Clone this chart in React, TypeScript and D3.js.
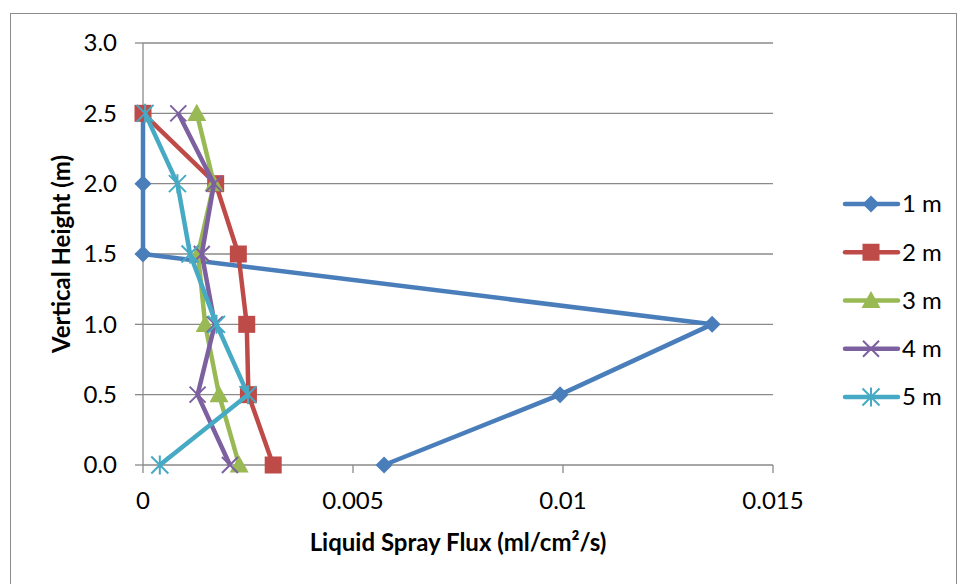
import React from "react";
import * as d3 from "d3";

const heights = [0, 0.5, 1.0, 1.5, 2.0, 2.5];
const seriesNames = ["1 m", "2 m", "3 m", "4 m", "5 m"];
const flux1m = [0.00574, 0.00993, 0.01355, 0, 0, 0];
const flux2m = [0.0031, 0.00251, 0.00247, 0.00227, 0.00173, 0];
const flux3m = [0.00229, 0.00181, 0.00148, 0.00131, 0.00169, 0.00128];
const flux4m = [0.00207, 0.0013, 0.00171, 0.0014, 0.00169, 0.00084];
const flux5m = [0.0004, 0.0025, 0.00175, 0.00112, 0.00082, 0.00005];
const seriesValues = [flux1m, flux2m, flux3m, flux4m, flux5m];
const colors = ["#4A7EBB", "#BE4B48", "#98B954", "#7D60A0", "#46AAC5"];
const markers = ["diamond", "square", "triangle", "x", "star"];
const xTicks = [0, 0.005, 0.01, 0.015];
const xTickLabels = ["0", "0.005", "0.01", "0.015"];
const yTicks = [0, 0.5, 1.0, 1.5, 2.0, 2.5, 3.0];

const W = 957;
const H = 584;
const font = "Lato, 'Open Sans', sans-serif";
const fs = 24;

function Marker({ type, x, y, color }: { type: string; x: number; y: number; color: string }) {
  if (type === "diamond") {
    const s = 8.5;
    return <path d={`M${x},${y - s}L${x + s},${y}L${x},${y + s}L${x - s},${y}Z`} fill={color} />;
  }
  if (type === "square") {
    const s = 8.5;
    return <rect x={x - s} y={y - s} width={2 * s} height={2 * s} fill={color} />;
  }
  if (type === "triangle") {
    const s = 9.5;
    return <path d={`M${x},${y - s}L${x + s},${y + s * 0.8}L${x - s},${y + s * 0.8}Z`} fill={color} />;
  }
  if (type === "x") {
    const s = 8;
    return (
      <path d={`M${x - s},${y - s}L${x + s},${y + s}M${x - s},${y + s}L${x + s},${y - s}`} stroke={color} strokeWidth={2} fill="none" />
    );
  }
  const s = 8.5;
  return (
    <path
      d={`M${x - s},${y - s}L${x + s},${y + s}M${x - s},${y + s}L${x + s},${y - s}M${x},${y - s - 1}L${x},${y + s + 1}`}
      stroke={color}
      strokeWidth={2}
      fill="none"
    />
  );
}

export default function App() {
  const x = d3.scaleLinear().domain([0, 0.015]).range([143, 773]);
  const y = d3.scaleLinear().domain([0, 3]).range([465, 43]);
  const line = d3
    .line<[number, number]>()
    .x((d) => x(d[0]))
    .y((d) => y(d[1]));

  const legendY = d3.scaleLinear().domain([0, 4]).range([204, 397]);

  return (
    <svg width={W} height={H} style={{ position: "absolute", left: 0, top: 0, display: "block" }}>
      <rect x={0} y={0} width={W} height={H} fill="#fff" />
      <rect x={10.5} y={13.5} width={946} height={600} fill="#fff" stroke="#8c8c8c" strokeWidth={1} />
      {yTicks.map((t) => (
        <line key={"g" + t} x1={x(0)} x2={x(0.015)} y1={y(t)} y2={y(t)} stroke="#8a8a8a" strokeWidth={1.3} />
      ))}
      <line x1={x(0)} x2={x(0)} y1={y(0)} y2={y(3)} stroke="#8a8a8a" strokeWidth={1.3} />
      {yTicks.map((t) => (
        <line key={"yt" + t} x1={x(0) - 8} x2={x(0)} y1={y(t)} y2={y(t)} stroke="#8a8a8a" strokeWidth={1.3} />
      ))}
      {xTicks.map((t) => (
        <line key={"xt" + t} x1={x(t)} x2={x(t)} y1={y(0)} y2={y(0) + 8} stroke="#8a8a8a" strokeWidth={1.3} />
      ))}
      {yTicks.map((t) => (
        <text key={"yl" + t} x={117} y={y(t)} dy="0.35em" textAnchor="end" fontFamily={font} fontSize={fs} fill="#000">
          {d3.format(".1f")(t)}
        </text>
      ))}
      {xTicks.map((t, i) => (
        <text key={"xl" + t} x={x(t)} y={501} dy="0.35em" textAnchor="middle" fontFamily={font} fontSize={fs} fill="#000">
          {xTickLabels[i]}
        </text>
      ))}
      <text x={458} y={543} dy="0.35em" textAnchor="middle" fontFamily={font} fontSize={fs} fontWeight="bold" fill="#000">
        Liquid Spray Flux (ml/cm²/s)
      </text>
      <text
        transform={`translate(62,254) rotate(-90)`}
        dy="0.35em"
        textAnchor="middle"
        fontFamily={font}
        fontSize={fs}
        fontWeight="bold"
        fill="#000"
      >
        Vertical Height (m)
      </text>
      {seriesValues.map((vals, si) => {
        const pts: [number, number][] = vals.map((v, i) => [v, heights[i]]);
        return (
          <g key={"s" + si}>
            <path d={line(pts) || ""} fill="none" stroke={colors[si]} strokeWidth={4.5} strokeLinejoin="round" />
            {pts.map((p, i) => (
              <Marker key={i} type={markers[si]} x={x(p[0])} y={y(p[1])} color={colors[si]} />
            ))}
          </g>
        );
      })}
      {seriesNames.map((name, si) => {
        const ly = legendY(si);
        return (
          <g key={"l" + si}>
            <line x1={845} x2={898} y1={ly} y2={ly} stroke={colors[si]} strokeWidth={4.5} strokeLinecap="round" />
            <Marker type={markers[si]} x={871} y={ly} color={colors[si]} />
            <text x={902} y={ly} dy="0.35em" fontFamily={font} fontSize={fs} fill="#000">
              {name}
            </text>
          </g>
        );
      })}
    </svg>
  );
}
